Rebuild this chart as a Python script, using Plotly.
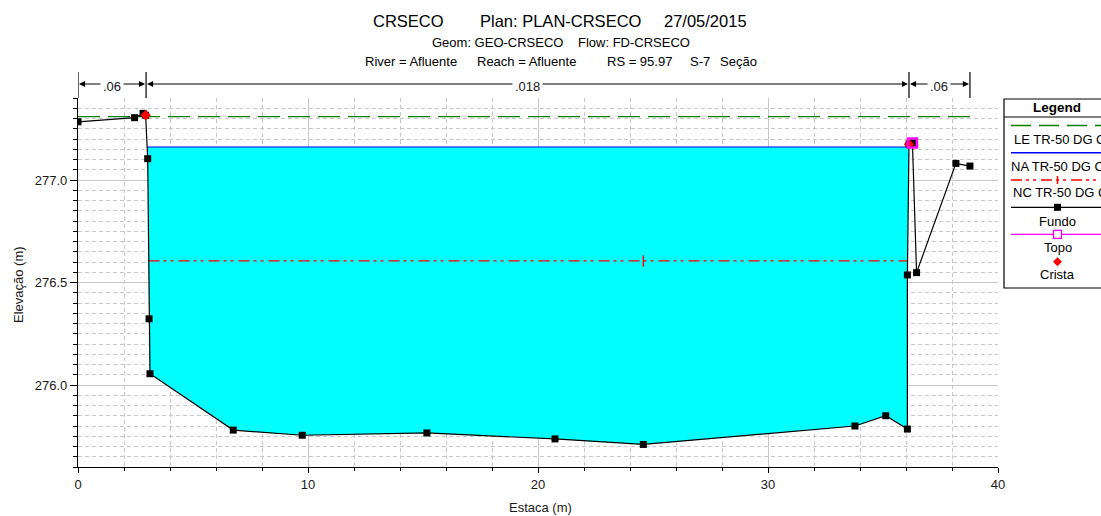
import numpy as np
import plotly.graph_objects as go

# ---------------- data ----------------
sta_ground = [0.0, 2.46, 2.83, 2.94, 3.03, 3.09, 3.13, 6.75, 9.75, 15.17, 20.74,
              24.58, 33.78, 35.12, 36.06, 36.06, 36.13, 36.28, 36.46, 38.17, 38.78]
elev_ground = [277.284, 277.304, 277.325, 277.316, 277.104, 276.323, 276.055, 275.780,
               275.755, 275.766, 275.737, 275.710, 275.800, 275.850, 275.785, 276.537,
               277.175, 277.180, 276.548, 277.081, 277.068]
ws_elev = 277.161      # NA TR-50 (water surface)
eg_elev = 277.309      # LE TR-50 (energy grade)
crit_elev = 276.605    # NC TR-50 (critical)
topo_sta = [36.28]
topo_elev = [277.180]
crista_sta = [2.94, 36.13]
crista_elev = [277.316, 277.175]
n_breaks = [0.0, 2.96, 36.13, 38.78]
n_values = [".06", ".018", ".06"]
x_ticks = [0, 10, 20, 30, 40]
y_ticks = [276.0, 276.5, 277.0]

FONT = "Arial, Liberation Sans, sans-serif"

gx = np.array(sta_ground)
gz = np.array(elev_ground)
imin = int(np.argmin(gz))


def channel_span(level):
    i = imin
    while gz[i - 1] < level:
        i -= 1
    j = imin
    while gz[j + 1] < level:
        j += 1
    tl = (level - gz[i - 1]) / (gz[i] - gz[i - 1])
    xl = gx[i - 1] + tl * (gx[i] - gx[i - 1])
    tr = (level - gz[j]) / (gz[j + 1] - gz[j])
    xr = gx[j] + tr * (gx[j + 1] - gx[j])
    return i, j, xl, xr


i0, j0, xl, xr = channel_span(ws_elev)
poly_x = [xl] + list(gx[i0:j0 + 1]) + [xr, xl]
poly_z = [ws_elev] + list(gz[i0:j0 + 1]) + [ws_elev, ws_elev]
_, _, cxl, cxr = channel_span(crit_elev)

fig = go.Figure()
fig.add_trace(go.Scatter(x=poly_x, y=poly_z, fill="toself", fillcolor="#00FFFF",
                         mode="none", hoverinfo="skip", showlegend=False))
fig.add_trace(go.Scatter(x=[xl, xr], y=[ws_elev, ws_elev], mode="lines",
                         line=dict(color="#0000FF", width=1.2), showlegend=False))
fig.add_trace(go.Scatter(x=[cxl, cxr], y=[crit_elev, crit_elev], mode="lines",
                         line=dict(color="#FF0000", width=1.2,
                                   dash="11px,4px,3px,4px,3px,5px"), showlegend=False))
fig.add_trace(go.Scatter(x=[gx[imin]], y=[crit_elev], mode="markers",
                         marker=dict(symbol="line-ns", size=8, color="#FF0000",
                                     line=dict(color="#FF0000", width=1.5)),
                         showlegend=False))
fig.add_trace(go.Scatter(x=[gx[0], gx[-1]], y=[eg_elev, eg_elev], mode="lines",
                         line=dict(color="#008000", width=1.3, dash="22px,8px"), showlegend=False))
fig.add_trace(go.Scatter(x=sta_ground, y=elev_ground, mode="lines+markers",
                         line=dict(color="black", width=1.2),
                         marker=dict(symbol="square", size=7, color="black"), showlegend=False))
fig.add_trace(go.Scatter(x=crista_sta, y=crista_elev, mode="markers",
                         marker=dict(symbol="diamond", size=8, color="#FF0000"), showlegend=False))
fig.add_trace(go.Scatter(x=topo_sta, y=topo_elev, mode="markers",
                         marker=dict(symbol="square-open", size=9, color="#FF00FF",
                                     line=dict(color="#FF00FF", width=2.5)), showlegend=False))

L, R, T, B = 78, 103, 98, 49
W, H = 1101, 516
PW, PH = W - L - R, H - T - B


def px(xp):
    return (xp - L) / PW


def py(yp):
    return (H - B - yp) / PH


shapes = []
annotations = []

# Manning's n brackets
yb = py(84)
for xb in n_breaks:
    shapes.append(dict(type="line", xref="x", yref="paper", x0=xb, x1=xb,
                       y0=py(72), y1=py(98), line=dict(color="black", width=1.2)))
for k, lab in enumerate(n_values):
    a, b = n_breaks[k], n_breaks[k + 1]
    m = (a + b) / 2
    for end in (a, b):
        annotations.append(dict(xref="x", yref="paper", x=end, y=yb, ax=m, ay=0,
                                axref="x", ayref="pixel", text="", showarrow=True,
                                arrowhead=2, arrowsize=1.1, arrowwidth=1.1,
                                arrowcolor="black", standoff=1))
    annotations.append(dict(xref="x", yref="paper", x=m, y=py(86.5), text=lab, showarrow=False,
                            bgcolor="white", borderpad=2, xanchor="center", yanchor="middle",
                            font=dict(family=FONT, size=13, color="#1a1a1a")))

# Titles (pieces placed left-aligned)
title_pieces = [
    ("CRSECO", 371, 21, 16.5),
    ("Plan: PLAN-CRSECO", 478, 21, 16.5),
    ("27/05/2015", 662, 21, 16.5),
    ("Geom: GEO-CRSECO", 430, 42, 13),
    ("Flow: FD-CRSECO", 576, 42, 13),
    ("River = Afluente", 363, 62, 13),
    ("Reach = Afluente", 475, 62, 13),
    ("RS = 95.97", 605, 62, 13),
    ("S-7", 688, 62, 13),
    ("Seção", 718, 62, 13),
]
for txt, xp, yp, fs in title_pieces:
    annotations.append(dict(xref="paper", yref="paper", x=px(xp), y=py(yp), text=txt,
                            showarrow=False, xanchor="left", yanchor="middle",
                            font=dict(family=FONT, size=fs, color="black")))

annotations.append(dict(xref="paper", yref="paper", x=px(18), y=py(285), text="Elevação (m)",
                        textangle=-90, showarrow=False, xanchor="center", yanchor="middle",
                        font=dict(family=FONT, size=13, color="#1a1a1a")))
annotations.append(dict(xref="paper", yref="paper", x=px(540), y=py(507), text="Estaca (m)",
                        showarrow=False, xanchor="center", yanchor="middle",
                        font=dict(family=FONT, size=13, color="#1a1a1a")))

# Legend box (drawn)
lx0, lx1 = 1004, 1140
shapes.append(dict(type="rect", xref="paper", yref="paper", x0=px(lx0), x1=px(lx1),
                   y0=py(288), y1=py(99), line=dict(color="black", width=1.2),
                   fillcolor="white", layer="above"))
shapes.append(dict(type="line", xref="paper", yref="paper", x0=px(lx0), x1=px(lx1),
                   y0=py(117), y1=py(117), line=dict(color="black", width=1)))
annotations.append(dict(xref="paper", yref="paper", x=px(1057), y=py(107.5), text="<b>Legend</b>",
                        showarrow=False, xanchor="center", yanchor="middle",
                        font=dict(family=FONT, size=13.5, color="black")))
lgx0, lgx1 = 1011, 1140
cx = 1057.5
legend_lines = [
    (125.5, "#008000", "20px,8px", 1.5),
    (152.7, "#0000FF", "solid", 1.5),
    (180, "#FF0000", "11px,4px,3px,4px,3px,5px", 1.5),
    (207.3, "black", "solid", 1.3),
    (234.3, "#FF00FF", "solid", 1.3),
]
for yp, col, dash, wd in legend_lines:
    shapes.append(dict(type="line", xref="paper", yref="paper", x0=px(lgx0), x1=px(lgx1),
                       y0=py(yp), y1=py(yp), line=dict(color=col, width=wd, dash=dash)))
# plus on NC
shapes.append(dict(type="line", xref="paper", yref="paper", x0=px(cx), x1=px(cx),
                   y0=py(176), y1=py(184), line=dict(color="#FF0000", width=1.5)))
# Fundo square
shapes.append(dict(type="rect", xref="paper", yref="paper", x0=px(cx - 3.5), x1=px(cx + 3.5),
                   y0=py(207.3 + 3.5), y1=py(207.3 - 3.5), fillcolor="black",
                   line=dict(color="black", width=0)))
# Topo open square
shapes.append(dict(type="rect", xref="paper", yref="paper", x0=px(cx - 4), x1=px(cx + 4),
                   y0=py(234.3 + 4), y1=py(234.3 - 4), fillcolor="white",
                   line=dict(color="#FF00FF", width=1.3)))
# Crista diamond
dy = 261.7
shapes.append(dict(type="path", xref="paper", yref="paper",
                   path=f"M {px(cx)} {py(dy-4.5)} L {px(cx+4.5)} {py(dy)} L {px(cx)} {py(dy+4.5)} L {px(cx-4.5)} {py(dy)} Z",
                   fillcolor="#FF0000", line=dict(color="#FF0000", width=0)))

legend_texts = [
    ("LE TR-50 DG CRSECO", 1012, 139.5, "left"),
    ("NA TR-50 DG CRSECO", 1008.5, 166, "left"),
    ("NC TR-50 DG CRSECO", 1010.5, 192.5, "left"),
    ("Fundo", cx, 221.7, "center"),
    ("Topo", cx, 247.7, "center"),
    ("Crista", cx, 274.3, "center"),
]
for txt, xp, yp, anc in legend_texts:
    annotations.append(dict(xref="paper", yref="paper", x=px(xp), y=py(yp), text=txt,
                            showarrow=False, xanchor=anc, yanchor="middle",
                            font=dict(family=FONT, size=13, color="black")))

axis_common = dict(showline=True, linecolor="black", linewidth=1.2, ticks="outside",
                   tickcolor="black", zeroline=False, showgrid=True, gridcolor="#c8c8c8",
                   gridwidth=1, tickfont=dict(family=FONT, size=13, color="#1a1a1a"))

fig.update_layout(
    width=W, height=H,
    margin=dict(l=L, r=R, t=T, b=B, autoexpand=False),
    paper_bgcolor="white", plot_bgcolor="white",
    showlegend=False,
    xaxis=dict(range=[0, 40], tickvals=x_ticks, ticklen=5, **axis_common,
               minor=dict(dtick=2, tick0=0, showgrid=True, griddash="4px,3px",
                          gridcolor="#c8c8c8", ticks="outside", ticklen=3, tickcolor="black")),
    yaxis=dict(range=[275.6, 277.4], tickvals=y_ticks, tickformat=".1f", ticklen=7, **axis_common,
               minor=dict(dtick=0.05, tick0=275.6, showgrid=True, griddash="4px,3px",
                          gridcolor="#c8c8c8", ticks="outside", ticklen=4, tickcolor="black")),
    shapes=shapes,
    annotations=annotations,
)

fig.write_html("out.html", config={"displayModeBar": False},
               post_script="document.body.style.margin='0';document.body.style.overflow='hidden';"
                           "document.documentElement.style.overflow='hidden';")
